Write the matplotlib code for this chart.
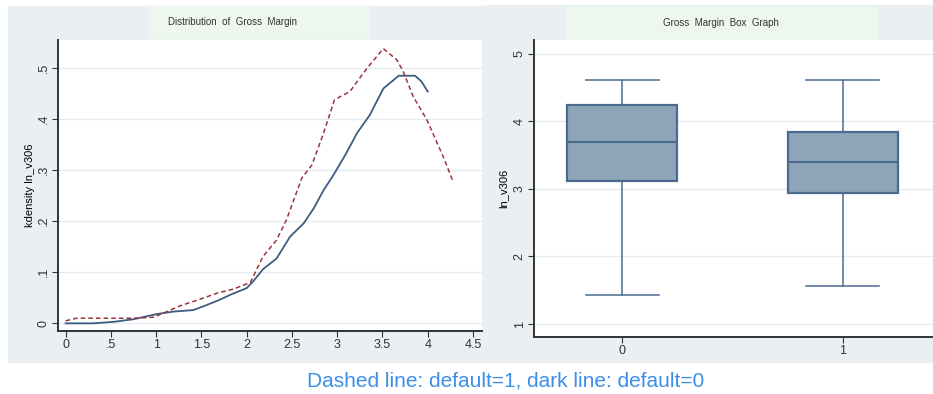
import matplotlib
matplotlib.use("Agg")
import matplotlib.pyplot as plt
from matplotlib.patches import Rectangle
from matplotlib.ticker import FuncFormatter

plt.rcParams['font.family'] = ['Liberation Sans', 'DejaVu Sans']

# kdensity of ln_v306, default = 0 (dark line)
x_dark = [0.0, 0.3, 0.53, 0.75, 1.0, 1.19, 1.41, 1.56, 1.7, 1.82, 2.0, 2.07, 2.18,
          2.33, 2.48, 2.63, 2.74, 2.85, 2.96, 3.09, 3.22, 3.36, 3.51, 3.68, 3.86,
          3.93, 4.0]
y_dark = [0.0, 0.0, 0.003, 0.008, 0.018, 0.023, 0.026, 0.036, 0.046, 0.056, 0.069,
          0.082, 0.106, 0.127, 0.17, 0.196, 0.225, 0.261, 0.291, 0.33, 0.373, 0.408,
          0.46, 0.485, 0.485, 0.474, 0.454]

# kdensity of ln_v306, default = 1 (dashed line)
x_dash = [0.0, 0.12, 0.38, 0.75, 0.97, 1.12, 1.26, 1.48, 1.67, 1.85, 2.04, 2.18,
          2.33, 2.44, 2.61, 2.72, 2.85, 2.97, 3.14, 3.33, 3.51, 3.66, 3.73, 3.84,
          3.99, 4.17, 4.28]
y_dash = [0.005, 0.01, 0.01, 0.01, 0.012, 0.023, 0.034, 0.047, 0.059, 0.067, 0.08,
          0.131, 0.163, 0.203, 0.285, 0.31, 0.373, 0.438, 0.454, 0.5, 0.538, 0.516,
          0.493, 0.444, 0.399, 0.327, 0.278]

# box plot stats by default group
groups = ['0', '1']
whis_lo = [1.434, 1.563]
q1 = [3.114, 2.932]
med = [3.685, 3.39]
q3 = [4.236, 3.837]
whis_hi = [4.606, 4.606]

W, H = 933, 394
fig = plt.figure(figsize=(W / 100, H / 100), dpi=100)

def fx(px):
    return px / W

def fy(py):
    return 1 - py / H

panel_bg = '#e9eff2'
title_bg = '#eef7ef'
# panel backgrounds (behind the axes)
fig.patches.append(Rectangle((fx(8), fy(362)), fx(487 - 8), (362 - 6) / H,
                             transform=fig.transFigure, color=panel_bg, zorder=-3))
fig.patches.append(Rectangle((fx(487), fy(362)), fx(933 - 487), (362 - 5) / H,
                             transform=fig.transFigure, color=panel_bg, zorder=-3))
# title boxes
fig.patches.append(Rectangle((fx(148), fy(38)), fx(369 - 148), 32 / H,
                             transform=fig.transFigure, color=title_bg, zorder=-2))
fig.patches.append(Rectangle((fx(566), fy(40)), fx(877 - 566), 33 / H,
                             transform=fig.transFigure, color=title_bg, zorder=-2))
fig.text(fx(232), fy(22), 'Distribution  of  Gross  Margin', ha='center', va='center',
         fontsize=7, color='#333333')
fig.text(fx(721), fy(23), 'Gross  Margin  Box  Graph', ha='center', va='center',
         fontsize=7, color='#333333')

grid_c = '#e3ebf0'
spine_c = '#333333'

def nolead(v, pos):
    s = ('%g' % v)
    if s.startswith('0.'):
        s = s[1:]
    return s

# ---- left: density ----
ax1 = fig.add_axes([fx(58), fy(331), fx(482 - 58), (331 - 40) / H])
ax1.plot(x_dark, y_dark, color='#3d5c82', lw=1.3)
ax1.plot(x_dash, y_dash, color='#9c3338', lw=1.1, ls=(0, (3, 2)))
ax1.set_xlim(-0.085, 4.6)
ax1.set_ylim(-0.015, 0.555)
ax1.set_xticks([0, 0.5, 1, 1.5, 2, 2.5, 3, 3.5, 4, 4.5])
ax1.set_yticks([0, 0.1, 0.2, 0.3, 0.4, 0.5])
ax1.xaxis.set_major_formatter(FuncFormatter(nolead))
ax1.yaxis.set_major_formatter(FuncFormatter(nolead))
ax1.set_ylabel('kdensity ln_v306', fontsize=8, labelpad=2)
for t in ax1.get_yticklabels():
    t.set_rotation(90)
    t.set_va('center')

# ---- right: box plot ----
ax2 = fig.add_axes([fx(534), fy(337), fx(933 - 534), (337 - 40) / H])
stats = []
for i in range(len(groups)):
    stats.append(dict(med=med[i], q1=q1[i], q3=q3[i], whislo=whis_lo[i],
                      whishi=whis_hi[i], fliers=[], label=groups[i]))
box_c = '#4a6b8f'
ax2.bxp(stats, positions=[0, 1], widths=0.5, capwidths=0.33, patch_artist=True,
        showfliers=False,
        boxprops=dict(facecolor='#8ea4b9', edgecolor=box_c, lw=1.6),
        medianprops=dict(color=box_c, lw=1.6),
        whiskerprops=dict(color=box_c, lw=1.1),
        capprops=dict(color=box_c, lw=1.1))
ax2.set_xlim(-0.4, 1.41)
ax2.set_ylim(0.81, 5.2)
ax2.set_yticks([1, 2, 3, 4, 5])
ax2.set_ylabel('ln_v306', fontsize=8, labelpad=4)
for t in ax2.get_yticklabels():
    t.set_rotation(90)
    t.set_va('center')

for ax in (ax1, ax2):
    ax.set_facecolor('white')
    ax.spines['top'].set_visible(False)
    ax.spines['right'].set_visible(False)
    ax.spines['left'].set_color(spine_c)
    ax.spines['bottom'].set_color(spine_c)
    ax.spines['left'].set_linewidth(1.4)
    ax.spines['bottom'].set_linewidth(1.4)
    ax.yaxis.grid(True, color=grid_c, lw=1)
    ax.set_axisbelow(True)
    ax.tick_params(labelsize=9, colors=spine_c, length=4, width=0.8, pad=2)

fig.text(fx(506), fy(381), 'Dashed line: default=1, dark line: default=0',
         ha='center', va='center', fontsize=15, color='#3d8ee8')

fig.savefig('out.png', dpi=100)
